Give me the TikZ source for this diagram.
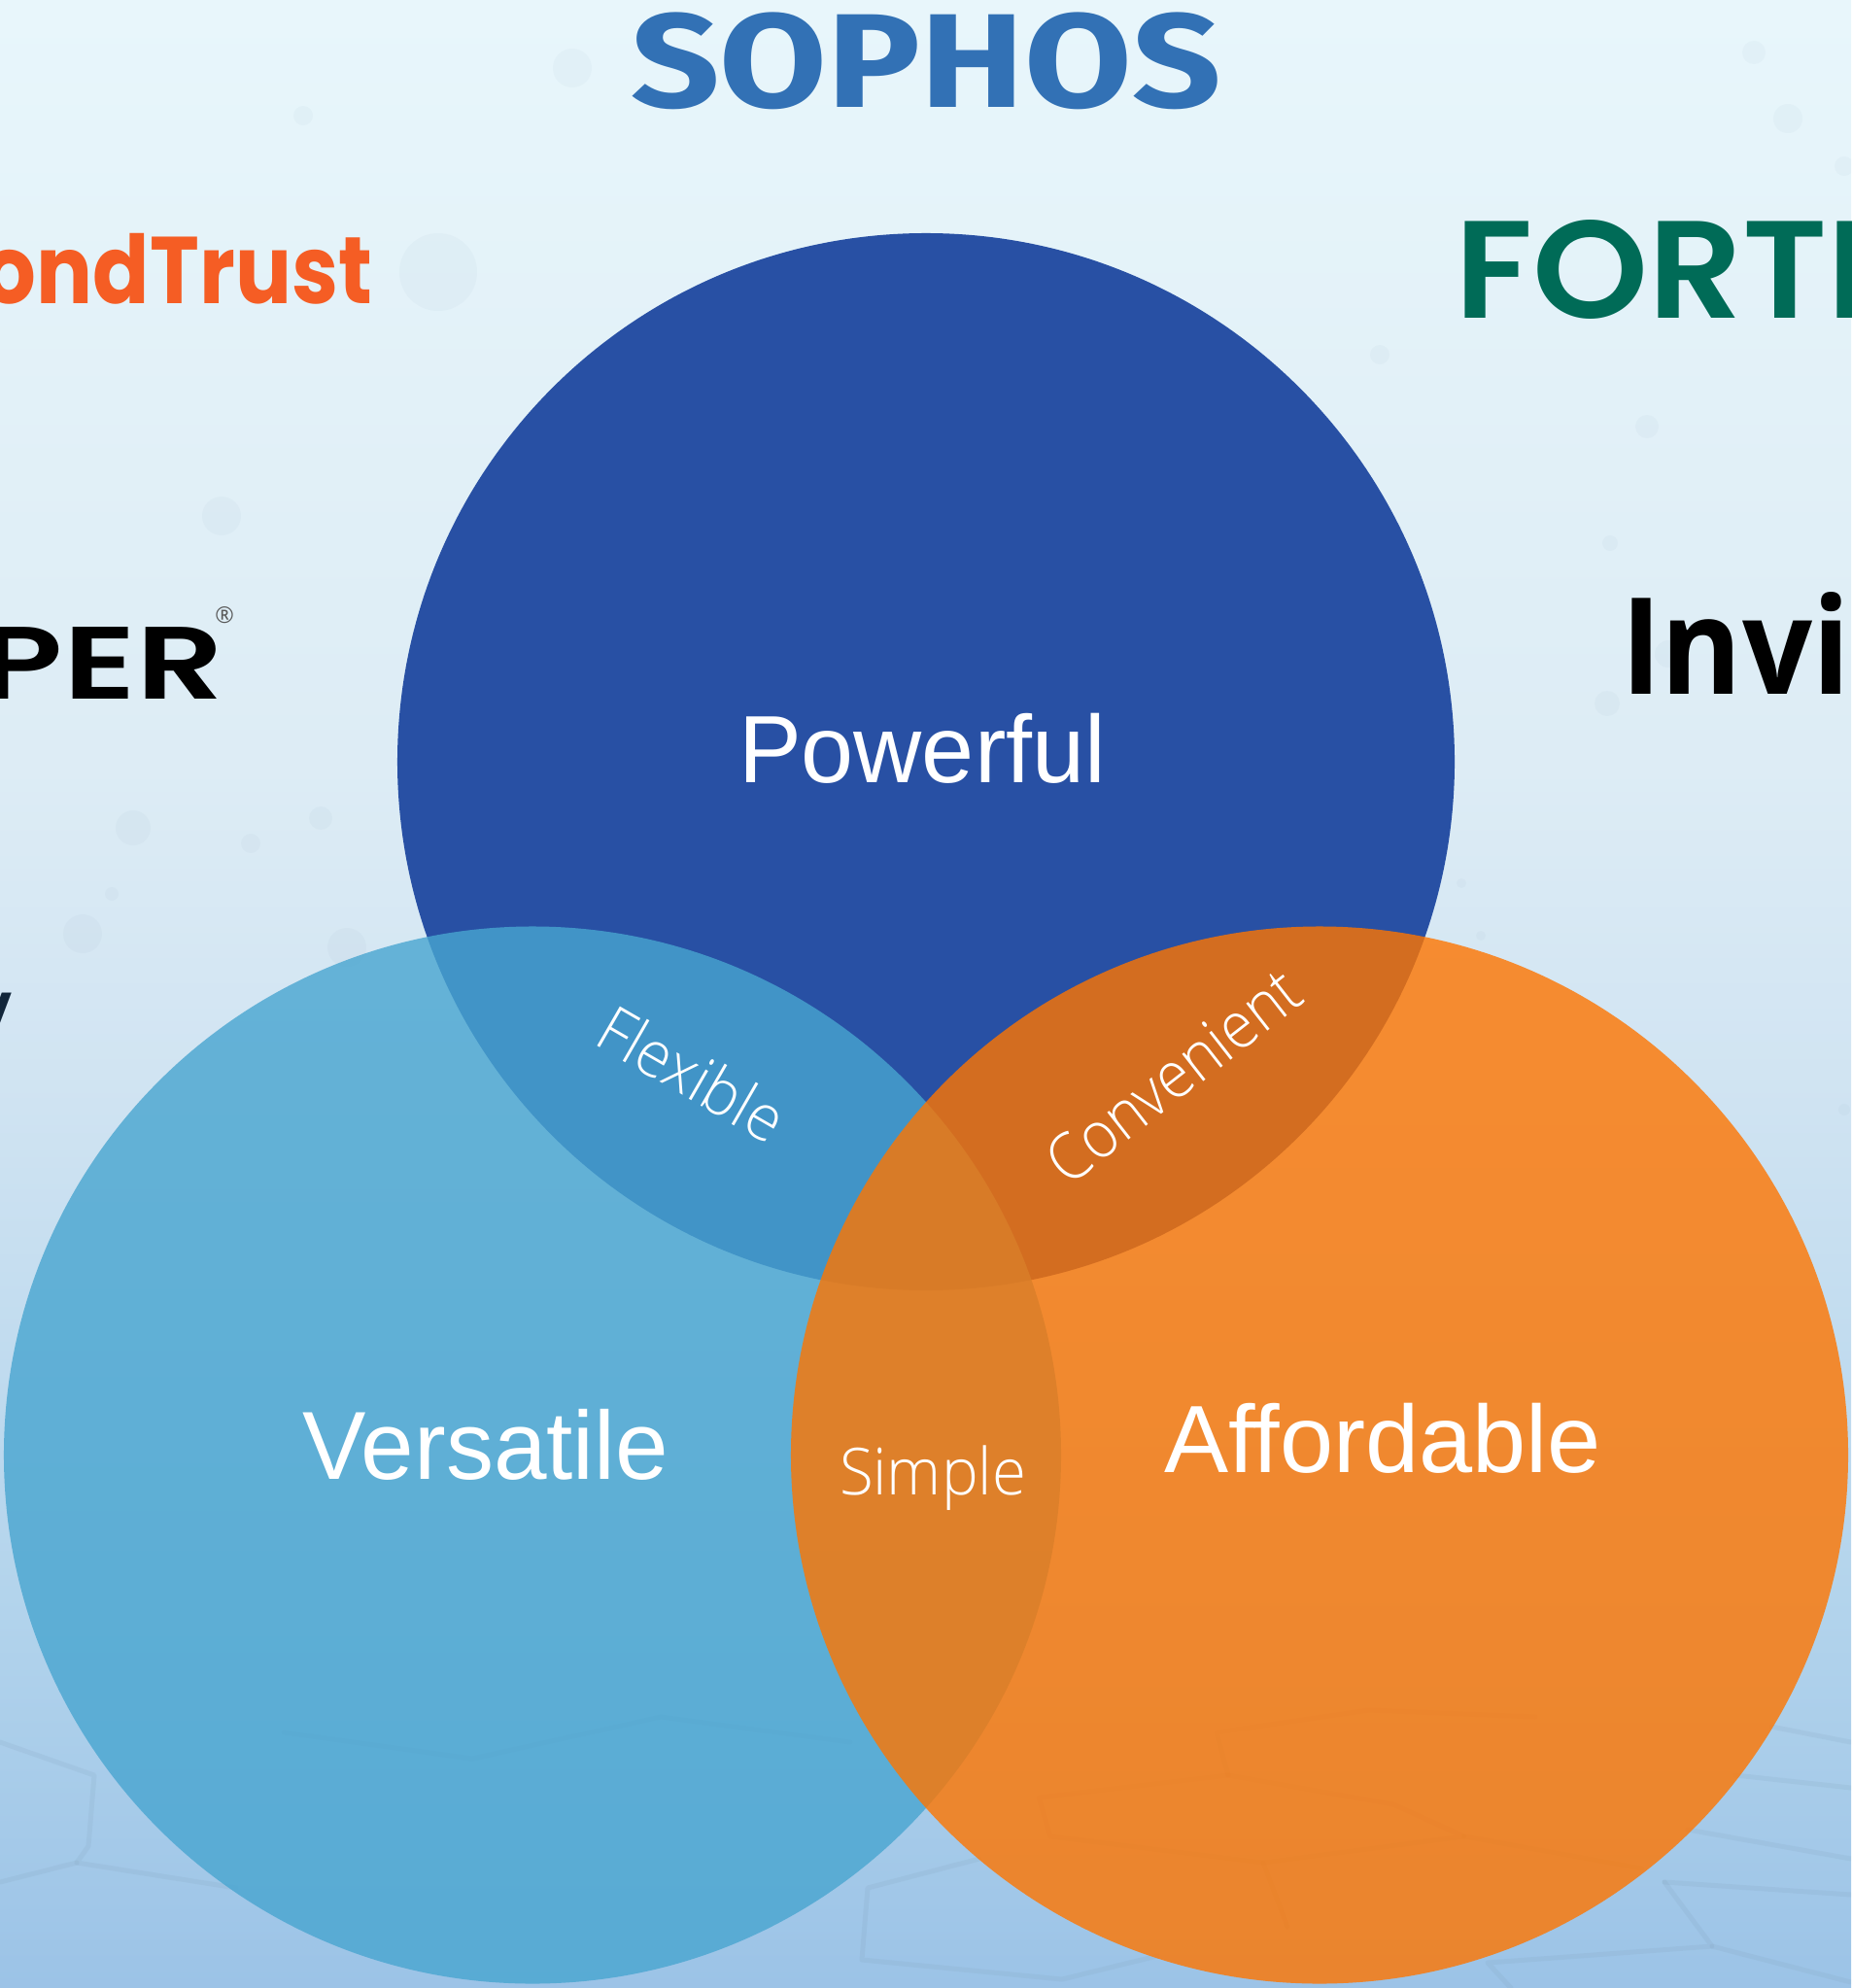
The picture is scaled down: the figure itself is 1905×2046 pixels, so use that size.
\documentclass[tikz,border=0pt]{standalone}
\usepackage{graphicx}
\usepackage{fontspec}
\setmainfont{Liberation Sans}
\newfontfamily\logofont{Poppins}
\newfontfamily\logomed{Poppins SemiBold}
\newfontfamily\firafont{Fira Sans}
\newfontfamily\opensans{Open Sans}
\newfontfamily\thinfont{Open Sans Light}
\newlength\pxu
\setlength\pxu{0.03cm}
\newcommand\fitbox[3]{\resizebox*{#1\pxu}{#2\pxu}{#3}}
\newcommand\fitw[2]{\resizebox{#1\pxu}{\height}{#2}}
\definecolor{bluecirc}{RGB}{40,80,164}
\definecolor{skycirc}{RGB}{72,165,208}
\definecolor{orangecirc}{RGB}{254,117,0}
\definecolor{sophosblue}{RGB}{50,113,181}
\definecolor{bondorange}{RGB}{245,93,36}
\definecolor{fortigreen}{RGB}{0,107,87}
\definecolor{speck}{RGB}{120,150,175}
\definecolor{navytext}{RGB}{18,38,58}
\pgfdeclareverticalshading{bgshade}{100bp}{
  rgb(0bp)=(0.60,0.76,0.90);
  rgb(25bp)=(0.61,0.765,0.905);
  rgb(34.7bp)=(0.70,0.83,0.925);
  rgb(48.1bp)=(0.82,0.895,0.95);
  rgb(55.45bp)=(0.865,0.925,0.96);
  rgb(75bp)=(0.91,0.965,0.985);
  rgb(100bp)=(0.91,0.965,0.985)}
\tikzset{
  word/.style={inner sep=0pt,outer sep=0pt},
  label/.style={inner sep=0pt,outer sep=0pt,anchor=base,text=white},
  dot/.style={fill=speck,fill opacity=0.05},
  web/.style={draw=speck,draw opacity=0.13,line width=5\pxu,line join=round,line cap=round},
  venn/.style={fill opacity=0.8}
}
\begin{document}
\begin{tikzpicture}[x=0.03cm,y=-0.03cm]
\useasboundingbox (0,0) rectangle (1905,2046);
\clip (0,0) rectangle (1905,2046);
\shade[shading=bgshade] (0,0) rectangle (1905,2046);
% faint specks of the backdrop
\foreach \x/\y/\r in {589/70/20,312/119/10,451/280/40,228/531/20,258/868/10,330/842/12,115/920/7,137/852/18,85/961/20,357/975/20,
  1805/54/12,1420/365/10,1695/439/12,1657/559/8,1654/724/13,1898/171/10,1840/122/15,1717/673/14,1524/963/5,1504/909/5,1898/1142/6}
  \fill[dot] (\x,\y) circle (\r*0.03cm);
% faint web of the backdrop
\draw[web] (0,1793) -- (97,1827) -- (91,1900) -- (79,1917) -- (243,1943);
\draw[web] (79,1917) -- (0,1937);
\draw[web] (1008,1913) -- (893,1943) -- (887,2017) -- (1093,2037) -- (1191,2013);
\draw[web] (1713,1937) -- (1905,1950);
\draw[web] (1713,1937) -- (1762,2003) -- (1531,2020) -- (1555,2046);
\draw[web] (1762,2003) -- (1905,2040);
\draw[web] (1737,1883) -- (1905,1913);
\draw[web] (1786,1827) -- (1905,1840);
\draw[web] (1823,1777) -- (1905,1793);
\draw[web] (1069,1850) -- (1264,1827) -- (1434,1857) -- (1507,1890) -- (1300,1917) -- (1081,1890) -- cycle;
\draw[web] (1300,1917) -- (1325,1983);
\draw[web] (1264,1827) -- (1252,1783) -- (1409,1760) -- (1580,1767);
\draw[web] (1507,1890) -- (1690,1923);
\draw[web] (292,1783) -- (486,1810) -- (680,1767) -- (875,1793);
% circles
\fill[bluecirc] (953,784) circle (16.32cm);
\fill[skycirc,venn] (548,1497.5) circle (16.32cm);
\fill[orangecirc,venn] (1358,1497.5) circle (16.32cm);
% labels
\node[label] (powerful) at (949,805) {\fontsize{84pt}{84pt}\selectfont\fitw{378}{Powerful}};
\node[label] (versatile) at (500,1522) {\fontsize{85pt}{85pt}\selectfont\fitw{376}{Versatile}};
\node[label] (affordable) at (1423,1515) {\fontsize{84pt}{84pt}\selectfont\fitw{450}{Affordable}};
\node[label] (simple) at (960,1538) {\thinfont\fontsize{57pt}{57pt}\selectfont\fitw{192}{Simple}};
\node[label,rotate=-30] (flexible) at (700,1126) {\thinfont\fontsize{56pt}{56pt}\selectfont\fitw{210}{Flexible}};
\node[label,rotate=38] (convenient) at (1222,1126) {\thinfont\fontsize{57pt}{57pt}\selectfont\fitw{312}{Convenient}};
% vendor names
\node[word,anchor=south west,text=sophosblue] (sophos) at (649,113) {\firafont\bfseries\fontsize{90pt}{90pt}\selectfont\fitbox{608}{100}{SOPHOS}};
\node[word,anchor=south west,text=bondorange] (bond) at (-17,313) {\logofont\bfseries\fontsize{70pt}{70pt}\selectfont\fitbox{400}{73}{ondTrust}};
\node[word,anchor=south west,text=black] (juniper) at (-20,719) {\logomed\fontsize{80pt}{80pt}\selectfont\fitbox{250}{74}{PER}};
\node[word,text=gray!70!black] (reg) at (231,633) {\opensans\fontsize{20pt}{20pt}\selectfont ®};
\node[word,anchor=south west,text=fortigreen] (forti) at (1497,328) {\logomed\fontsize{80pt}{80pt}\selectfont\fitbox{426}{102}{FORTI}};
\node[word,anchor=south west,text=black] (invi) at (1668,714) {\opensans\bfseries\fontsize{110pt}{110pt}\selectfont\fitbox{236}{105}{Invi}};
\node[word,anchor=north east,text=navytext] (yfrag) at (12,1022) {\opensans\fontsize{98pt}{98pt}\selectfont y};
\end{tikzpicture}
\end{document}
